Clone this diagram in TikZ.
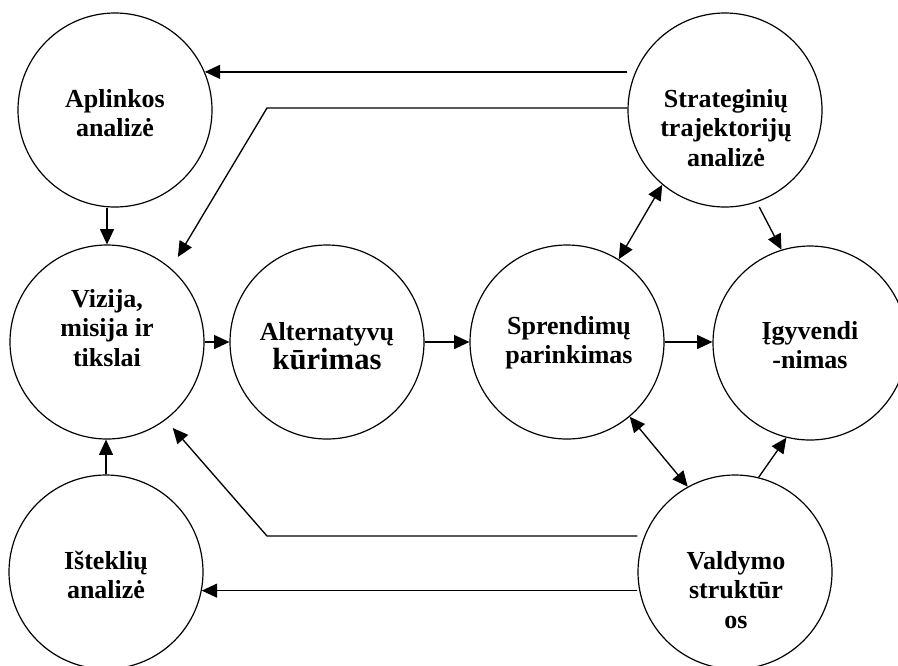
\documentclass[tikz,border=0pt]{standalone}
\usepackage{fontspec}
\setmainfont{Liberation Serif}
\usetikzlibrary{arrows.meta}
\tikzset{
    bub/.style={draw, circle, line width=0.9pt,
        minimum size=145.5pt, inner sep=0pt} }
\tikzset{
    txt/.style={align=center,
        font=\bfseries\fontsize{19.5}{22}\selectfont} }
\tikzset{
    arr/.style={line width=1pt,
        -{Triangle[length=11.5pt,width=10.5pt]}} }
\tikzset{
    darr/.style={line width=1pt,
        {Triangle[length=11.5pt,width=10.5pt]}-{Triangle[length=11.5pt,width=10.5pt]}} }

\begin{document}
\begin{tikzpicture}[x=0.75pt,y=-0.75pt]
\useasboundingbox (0,0) rectangle (898,665);

% circles
  \node [bub] (ap) at (115,110) {};  \node [txt] (ap-t) at (115,113) {Aplinkos\\analizė};
  \node [bub] (st) at (725,110) {};  \node [txt] (st-t) at (726,128) {Strateginių\\trajektorijų\\analizė};
  \node [bub] (vi) at (107,342) {};  \node [txt] (vi-t) at (107,328) {Vizija,\\misija ir\\tikslai};
  \node [bub] (al) at (327,342) {};  \node [txt] (al-t) at (327,346) {Alternatyvų\\{\fontsize{23}{24}\selectfont kūrimas}};
  \node [bub] (sp) at (567,342) {};  \node [txt] (sp-t) at (569,343) {Sprendimų\\parinkimas};
  \node [bub] (ig) at (810,343) {};  \node [txt] (ig-t) at (810,345) {Įgyvendi\\-nimas};
  \node [bub] (is) at (106,572) {};  \node [txt] (is-t) at (106,575) {Išteklių\\analizė};
  \node [bub] (va) at (735,572) {};  \node [txt] (va-t) at (736,590) {Valdymo\\struktūr\\os};

% bends
  \coordinate (sb) at (267,108);
  \coordinate (vb) at (267,536);

% arrows
  \draw [arr] (st.west |- ap.23) -- (ap.23);
  \draw [arr, shorten >=10pt] (sb -| st.west) -- (sb) -- (vi.49);
  \draw [arr] (vi.north |- ap.south) -- (vi.north);
  \draw [arr] (vi.east) -- (al.west);
  \draw [arr] (al.east) -- (sp.west);
  \draw [arr] (sp.east) -- (sp.east -| ig.west);
  \draw [darr] (sp.58) -- (st.230);
  \draw [arr, shorten <=4pt] (st.289) -- (ig.107);
  \draw [darr] (sp.310) -- (va.119);
  \draw [arr] (va.76) -- (ig.256);
  \draw [arr, shorten >=8pt] (vb -| va.west) -- (vb) -- (vi.307);
  \draw [arr] (va.west |- is.349) -- (is.349);
  \draw [arr] (is.north) -- (is.north |- vi.south);

\end{tikzpicture}
\end{document}
